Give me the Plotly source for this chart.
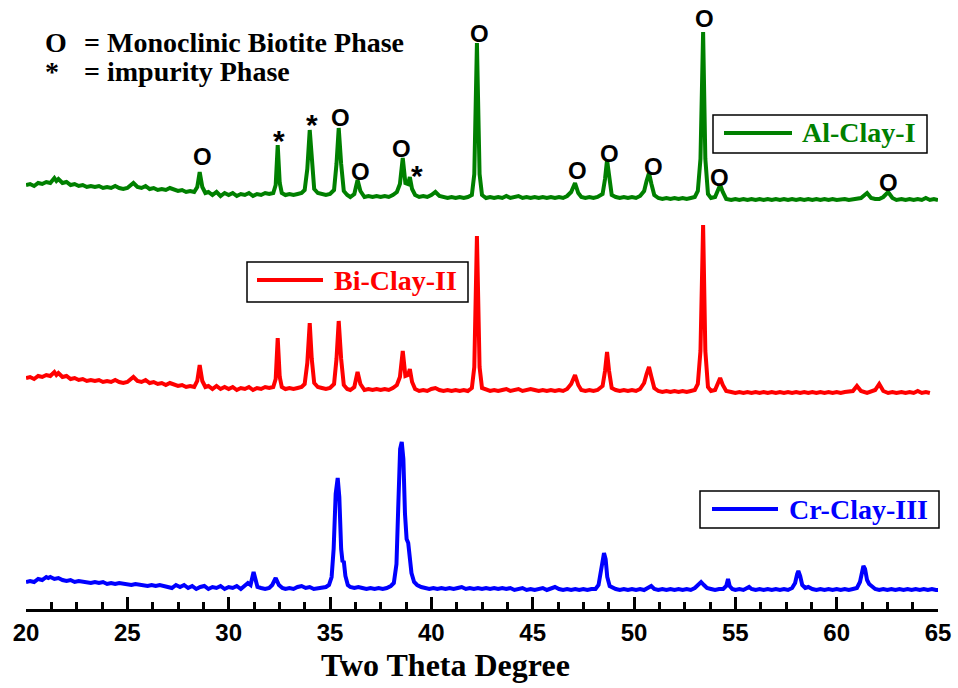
import plotly.graph_objects as go

# ---------------- data ----------------
two_theta_range = [20, 65]
major_ticks = [20, 25, 30, 35, 40, 45, 50, 55, 60, 65]

series_names = ["Al-Clay-I", "Bi-Clay-II", "Cr-Clay-III"]
series_colors = ["#008000", "#FF0000", "#0000FF"]
series_offsets = [400, 200, 0]   # vertical stacking offsets (a.u.)

al_x = [20.0, 20.2, 20.4, 20.6, 20.8, 21.0, 21.2, 21.4, 21.5, 21.6, 21.8, 22.0, 22.2, 22.4, 22.6, 22.8, 23.0, 23.2, 23.4, 23.6, 23.8, 24.0, 24.2, 24.4, 24.6, 24.8, 25.0, 25.3, 25.5, 25.7, 25.9, 26.1, 26.3, 26.5, 26.7, 26.9, 27.1, 27.3, 27.5, 27.7, 27.9, 28.1, 28.3, 28.45, 28.57, 28.7, 28.85, 29.0, 29.2, 29.4, 29.6, 29.8, 30.0, 30.2, 30.4, 30.6, 30.8, 31.0, 31.2, 31.4, 31.6, 31.8, 32.0, 32.2, 32.32, 32.42, 32.52, 32.62, 32.8, 33.0, 33.2, 33.4, 33.6, 33.75, 33.88, 34.0, 34.1, 34.22, 34.4, 34.6, 34.8, 35.0, 35.2, 35.32, 35.43, 35.55, 35.68, 35.85, 36.0, 36.2, 36.36, 36.5, 36.7, 36.9, 37.1, 37.3, 37.5, 37.7, 37.9, 38.1, 38.3, 38.45, 38.59, 38.72, 38.85, 38.94, 39.05, 39.2, 39.4, 39.6, 39.8, 40.0, 40.2, 40.4, 40.6, 40.8, 41.0, 41.2, 41.4, 41.6, 41.8, 42.0, 42.12, 42.25, 42.38, 42.5, 42.7, 42.9, 43.1, 43.3, 43.5, 43.7, 43.9, 44.1, 44.3, 44.5, 44.7, 44.9, 45.1, 45.3, 45.5, 45.7, 45.9, 46.1, 46.3, 46.5, 46.7, 46.9, 47.09, 47.25, 47.4, 47.6, 47.8, 48.0, 48.2, 48.45, 48.57, 48.67, 48.77, 48.9, 49.1, 49.3, 49.5, 49.7, 49.9, 50.1, 50.3, 50.5, 50.62, 50.74, 50.86, 51.0, 51.2, 51.4, 51.6, 51.8, 52.0, 52.2, 52.4, 52.6, 52.8, 53.0, 53.15, 53.28, 53.41, 53.52, 53.65, 53.8, 54.0, 54.12, 54.25, 54.38, 54.55, 54.8, 55.0, 55.2, 55.4, 55.6, 55.8, 56.0, 56.2, 56.4, 56.6, 56.8, 57.0, 57.2, 57.4, 57.6, 57.8, 58.0, 58.2, 58.4, 58.6, 58.8, 59.0, 59.2, 59.4, 59.6, 59.8, 60.0, 60.2, 60.4, 60.6, 60.8, 61.0, 61.2, 61.5, 61.7, 61.9, 62.1, 62.3, 62.54, 62.75, 62.95, 63.2, 63.4, 63.6, 63.8, 64.0, 64.2, 64.4, 64.6, 64.8, 65.0]
al_y = [24, 25, 23, 26, 25, 27, 26, 31, 28, 30, 26, 27, 24, 25, 23, 24, 22, 23, 22, 23, 21, 22, 21, 23, 21, 20, 21, 26, 22, 21, 23, 20, 21, 19, 20, 19, 21, 19, 18, 19, 17, 18, 17, 22, 37, 22, 16, 17, 14, 17, 13, 16, 14, 16, 13, 15, 14, 16, 13, 15, 14, 16, 15, 16, 24, 64, 26, 16, 14, 15, 14, 15, 16, 19, 40, 79, 45, 20, 16, 15, 14, 15, 19, 45, 81, 45, 18, 14, 12, 15, 29, 18, 12, 13, 12, 13, 12, 13, 12, 14, 17, 25, 51, 26, 25, 32, 20, 14, 12, 13, 12, 14, 17, 13, 12, 11, 12, 11, 12, 11, 12, 14, 35, 166, 35, 14, 11, 12, 11, 12, 11, 13, 11, 12, 13, 11, 12, 11, 12, 11, 12, 11, 12, 11, 12, 11, 13, 17, 26, 16, 12, 11, 12, 11, 12, 15, 30, 49, 30, 14, 12, 11, 12, 11, 12, 11, 13, 18, 28, 36, 25, 14, 11, 10, 11, 10, 11, 10, 11, 10, 11, 12, 18, 50, 177, 50, 15, 11, 12, 17, 24, 17, 10, 9, 10, 9, 10, 9, 10, 9, 10, 9, 10, 9, 10, 9, 10, 9, 10, 9, 10, 9, 10, 9, 10, 9, 10, 9, 10, 9, 10, 10, 9, 10, 10, 11, 16, 11, 10, 10, 12, 17, 11, 9, 10, 9, 10, 9, 10, 9, 11, 9, 10, 9]

bi_x = [20.0, 20.2, 20.4, 20.6, 20.8, 21.0, 21.2, 21.4, 21.5, 21.6, 21.8, 22.0, 22.2, 22.4, 22.6, 22.8, 23.0, 23.2, 23.4, 23.6, 23.8, 24.0, 24.2, 24.4, 24.6, 24.8, 25.0, 25.3, 25.5, 25.7, 25.9, 26.1, 26.3, 26.5, 26.7, 26.9, 27.1, 27.3, 27.5, 27.7, 27.9, 28.1, 28.3, 28.45, 28.57, 28.7, 28.85, 29.0, 29.2, 29.4, 29.6, 29.8, 30.0, 30.2, 30.4, 30.6, 30.8, 31.0, 31.2, 31.4, 31.6, 31.8, 32.0, 32.2, 32.32, 32.42, 32.52, 32.62, 32.8, 33.0, 33.2, 33.4, 33.6, 33.75, 33.88, 34.0, 34.1, 34.22, 34.4, 34.6, 34.8, 35.0, 35.2, 35.32, 35.43, 35.55, 35.68, 35.85, 36.0, 36.2, 36.36, 36.5, 36.7, 36.9, 37.1, 37.3, 37.5, 37.7, 37.9, 38.1, 38.3, 38.45, 38.59, 38.72, 38.85, 38.94, 39.05, 39.2, 39.4, 39.6, 39.8, 40.0, 40.2, 40.4, 40.6, 40.8, 41.0, 41.2, 41.4, 41.6, 41.8, 42.0, 42.12, 42.25, 42.38, 42.5, 42.7, 42.9, 43.1, 43.3, 43.5, 43.7, 43.9, 44.1, 44.3, 44.5, 44.7, 44.9, 45.1, 45.3, 45.5, 45.7, 45.9, 46.1, 46.3, 46.5, 46.7, 46.9, 47.09, 47.25, 47.4, 47.6, 47.8, 48.0, 48.2, 48.45, 48.57, 48.67, 48.77, 48.9, 49.1, 49.3, 49.5, 49.7, 49.9, 50.1, 50.3, 50.5, 50.62, 50.74, 50.86, 51.0, 51.2, 51.4, 51.6, 51.8, 52.0, 52.2, 52.4, 52.6, 52.8, 53.0, 53.15, 53.28, 53.41, 53.52, 53.65, 53.8, 54.0, 54.12, 54.25, 54.38, 54.55, 54.8, 55.0, 55.2, 55.4, 55.6, 55.8, 56.0, 56.2, 56.4, 56.6, 56.8, 57.0, 57.2, 57.4, 57.6, 57.8, 58.0, 58.2, 58.4, 58.6, 58.8, 59.0, 59.2, 59.4, 59.6, 59.8, 60.0, 60.2, 60.4, 60.6, 60.8, 61.0, 61.2, 61.5, 61.7, 61.9, 62.1, 62.3, 62.54, 62.75, 62.95, 63.2, 63.4, 63.6, 63.8, 64.0, 64.2, 64.4, 64.6, 64.8, 65.0]
bi_y = [31, 32, 30, 33, 32, 34, 33, 37, 34, 36, 32, 33, 30, 31, 29, 30, 28, 29, 28, 29, 27, 28, 27, 29, 27, 26, 27, 32, 28, 27, 29, 26, 27, 25, 26, 24, 26, 24, 23, 24, 22, 23, 22, 28, 44, 28, 22, 23, 20, 23, 20, 22, 20, 22, 19, 21, 20, 22, 19, 21, 20, 22, 21, 22, 30, 71, 32, 22, 20, 21, 20, 21, 22, 25, 46, 86, 50, 26, 22, 21, 20, 21, 25, 50, 88, 50, 24, 20, 19, 22, 37, 25, 19, 20, 19, 20, 19, 20, 19, 21, 24, 32, 58, 33, 34, 40, 27, 20, 18, 19, 18, 20, 21, 19, 18, 19, 18, 19, 18, 19, 18, 21, 42, 173, 42, 21, 19, 18, 19, 18, 19, 20, 18, 19, 20, 18, 19, 20, 19, 18, 19, 18, 19, 18, 19, 18, 20, 25, 34, 24, 19, 18, 19, 18, 19, 23, 38, 57, 38, 21, 19, 18, 19, 18, 19, 18, 20, 26, 35, 42, 32, 21, 18, 17, 18, 17, 18, 17, 18, 17, 18, 19, 25, 58, 184, 58, 22, 18, 19, 25, 31, 24, 18, 17, 16, 17, 16, 17, 16, 17, 16, 17, 16, 17, 16, 17, 16, 17, 16, 17, 16, 17, 16, 17, 16, 17, 16, 17, 16, 17, 16, 17, 17, 18, 23, 18, 16, 17, 19, 25, 18, 16, 17, 16, 17, 16, 17, 16, 18, 16, 17, 16]

cr_x = [20.0, 20.2, 20.4, 20.6, 20.8, 21.0, 21.1, 21.2, 21.4, 21.6, 21.8, 22.0, 22.2, 22.4, 22.6, 22.8, 23.0, 23.2, 23.4, 23.6, 23.8, 24.0, 24.2, 24.4, 24.6, 24.8, 25.0, 25.2, 25.4, 25.6, 25.8, 26.0, 26.2, 26.4, 26.6, 26.8, 27.0, 27.2, 27.4, 27.6, 27.8, 28.0, 28.2, 28.4, 28.6, 28.8, 29.0, 29.2, 29.4, 29.6, 29.8, 30.0, 30.2, 30.4, 30.6, 30.8, 30.95, 31.08, 31.16, 31.23, 31.32, 31.42, 31.6, 31.8, 32.0, 32.15, 32.32, 32.48, 32.65, 32.8, 33.0, 33.2, 33.4, 33.6, 33.8, 34.0, 34.2, 34.4, 34.6, 34.8, 34.95, 35.08, 35.18, 35.28, 35.38, 35.46, 35.55, 35.62, 35.68, 35.76, 35.88, 36.0, 36.2, 36.4, 36.6, 36.8, 37.0, 37.2, 37.4, 37.6, 37.8, 38.0, 38.15, 38.28, 38.38, 38.46, 38.54, 38.62, 38.7, 38.78, 38.86, 38.94, 39.02, 39.15, 39.3, 39.5, 39.7, 39.9, 40.1, 40.3, 40.5, 40.7, 40.9, 41.1, 41.3, 41.5, 41.7, 41.9, 42.1, 42.3, 42.5, 42.7, 42.9, 43.1, 43.3, 43.5, 43.7, 43.9, 44.1, 44.3, 44.5, 44.7, 44.9, 45.1, 45.3, 45.5, 45.7, 45.9, 46.1, 46.3, 46.5, 46.7, 46.9, 47.1, 47.3, 47.5, 47.7, 47.9, 48.1, 48.25, 48.38, 48.46, 48.52, 48.6, 48.68, 48.8, 48.95, 49.1, 49.3, 49.5, 49.7, 49.9, 50.1, 50.3, 50.5, 50.7, 50.85, 51.0, 51.2, 51.4, 51.6, 51.8, 52.0, 52.2, 52.4, 52.6, 52.8, 53.0, 53.15, 53.31, 53.45, 53.6, 53.8, 54.0, 54.2, 54.4, 54.55, 54.64, 54.72, 54.85, 55.0, 55.2, 55.4, 55.6, 55.68, 55.8, 56.0, 56.2, 56.4, 56.6, 56.8, 57.0, 57.2, 57.4, 57.6, 57.8, 57.95, 58.05, 58.11, 58.2, 58.3, 58.45, 58.6, 58.8, 59.0, 59.2, 59.4, 59.6, 59.8, 60.0, 60.2, 60.4, 60.6, 60.8, 61.0, 61.15, 61.25, 61.32, 61.4, 61.5, 61.6, 61.75, 61.9, 62.1, 62.3, 62.5, 62.7, 62.9, 63.1, 63.3, 63.5, 63.7, 63.9, 64.1, 64.3, 64.5, 64.7, 64.9, 65.0]
cr_y = [27, 28, 27, 30, 29, 32, 31, 32, 30, 31, 29, 28, 29, 27, 28, 27, 27, 26, 27, 26, 27, 25, 26, 25, 26, 25, 25, 24, 25, 24, 24, 23, 24, 23, 24, 23, 23, 21, 24, 22, 24, 21, 23, 20, 22, 23, 20, 22, 21, 23, 20, 22, 21, 23, 20, 23, 26, 24, 30, 37, 30, 22, 21, 20, 21, 24, 31, 24, 21, 20, 21, 20, 22, 23, 21, 22, 20, 21, 21, 22, 24, 32, 60, 115, 131, 112, 60, 47, 48, 33, 24, 22, 21, 22, 21, 20, 21, 20, 21, 20, 21, 23, 26, 45, 110, 160, 167, 150, 95, 70, 66, 50, 36, 27, 24, 22, 21, 20, 21, 20, 21, 20, 21, 20, 21, 22, 20, 21, 20, 21, 20, 21, 20, 21, 20, 21, 20, 21, 19, 20, 21, 19, 20, 19, 20, 21, 19, 20, 22, 20, 19, 20, 19, 20, 19, 20, 19, 20, 20, 24, 40, 54, 56, 50, 32, 23, 21, 20, 19, 20, 19, 20, 19, 20, 19, 21, 23, 20, 19, 20, 19, 20, 19, 20, 19, 20, 19, 21, 24, 27, 24, 21, 20, 19, 20, 20, 23, 30, 23, 20, 19, 20, 19, 21, 22, 20, 19, 20, 19, 20, 19, 20, 19, 20, 19, 21, 26, 35, 38, 33, 24, 21, 22, 20, 19, 20, 19, 20, 19, 20, 19, 20, 19, 20, 21, 27, 40, 43, 40, 29, 25, 22, 20, 19, 20, 19, 20, 19, 20, 19, 20, 19, 20, 19, 20, 19, 20, 19, 19]

# phase markers above the Al-Clay-I pattern (two-theta, stacked height, symbol)
marker_x = [28.72, 32.47, 34.10, 35.53, 36.52, 38.54, 39.28, 42.39, 47.23, 48.77, 50.94, 53.46, 54.20, 62.54]
marker_y = [453, 476, 492, 492, 438, 461, 441, 576, 439, 456, 443, 591, 432, 427]
marker_sym = ["O", "*", "*", "O", "O", "O", "*", "O", "O", "O", "O", "O", "O", "O"]

key_symbols = ["O", "*"]
key_texts = ["= Monoclinic Biotite Phase", "= impurity Phase"]
x_title = "Two Theta Degree"

# ---------------- layout helpers (pixel geometry of the page) ----------------
W, H = 958, 688
ML, MR, MT, MB = 26, 20, 10, 79
PW, PH = W - ML - MR, H - MT - MB


def px(x):
    return (x - ML) / PW


def py(y):
    return (H - MB - y) / PH


SERIF = "Liberation Serif"
SANS = "Liberation Sans"

fig = go.Figure()
data_x = [al_x, bi_x, cr_x]
data_y = [al_y, bi_y, cr_y]
for name, color, off, xs, ys in zip(series_names, series_colors, series_offsets, data_x, data_y):
    fig.add_trace(go.Scatter(
        x=xs, y=[v + off for v in ys], mode="lines", name=name,
        line=dict(color=color, width=4), showlegend=False, hoverinfo="skip",
    ))

annotations = []
for mx, my, ms in zip(marker_x, marker_y, marker_sym):
    if ms == "O":
        annotations.append(dict(x=mx, y=my, xref="x", yref="y", text="O", showarrow=False,
                                font=dict(family=SANS, size=24, color="black", weight="bold"),
                                xanchor="center", yanchor="middle"))
    else:
        annotations.append(dict(x=mx, y=my, xref="x", yref="y", text="*", showarrow=False,
                                font=dict(family=SANS, size=30, color="black", weight="bold"),
                                xanchor="center", yanchor="middle", yshift=-7))

# phase key (top-left)
key_rows_py = [42, 71]
for sym, txt, rowy in zip(key_symbols, key_texts, key_rows_py):
    annotations.append(dict(x=px(43), y=py(rowy), xref="paper", yref="paper", text=sym,
                            showarrow=False, xanchor="left", yanchor="middle",
                            font=dict(family=SERIF, size=28, color="black", weight="bold")))
    annotations.append(dict(x=px(82), y=py(rowy), xref="paper", yref="paper", text=txt,
                            showarrow=False, xanchor="left", yanchor="middle",
                            font=dict(family=SERIF, size=28, color="black", weight="bold")))

# x-axis title
annotations.append(dict(x=px(445), y=py(665), xref="paper", yref="paper", text=x_title,
                        showarrow=False, xanchor="center", yanchor="middle",
                        font=dict(family=SERIF, size=32, color="black", weight="bold")))

# per-series legend boxes: (box x0, x1, y0, y1, line x0, x1, line y, text x)
legend_geom = [
    (713, 927, 115, 153, 724, 792, 133, 800),
    (247, 468, 262, 302, 257, 323, 280, 332),
    (700, 939, 491, 528, 712, 778, 509, 787),
]
shapes = []
for (bx0, bx1, by0, by1, lx0, lx1, ly, tx), name, color in zip(legend_geom, series_names, series_colors):
    shapes.append(dict(type="rect", xref="paper", yref="paper",
                       x0=px(bx0), x1=px(bx1), y0=py(by1), y1=py(by0),
                       line=dict(color="black", width=1.5), fillcolor="rgba(0,0,0,0)"))
    shapes.append(dict(type="line", xref="paper", yref="paper",
                       x0=px(lx0), x1=px(lx1), y0=py(ly), y1=py(ly),
                       line=dict(color=color, width=4)))
    annotations.append(dict(x=px(tx), y=py(ly), xref="paper", yref="paper", text=name,
                            showarrow=False, xanchor="left", yanchor="middle",
                            font=dict(family=SERIF, size=28, color=color, weight="bold")))

fig.update_layout(
    width=W, height=H, autosize=False,
    margin=dict(l=ML, r=MR, t=MT, b=MB),
    paper_bgcolor="white", plot_bgcolor="white",
    annotations=annotations, shapes=shapes,
    xaxis=dict(
        range=two_theta_range, tickvals=major_ticks, automargin=False,
        showline=True, linecolor="black", linewidth=3,
        ticks="inside", ticklen=12, tickwidth=3, tickcolor="black",
        minor=dict(ticks="inside", ticklen=7, tickwidth=3, tickcolor="black", dtick=1.25, tick0=20),
        showgrid=False, zeroline=False,
        tickfont=dict(family=SANS, size=24, color="black", weight="bold"),
    ),
    yaxis=dict(range=[0, PH], visible=False, showgrid=False, zeroline=False, automargin=False),
)

fig.write_html("out.html", config={"displayModeBar": False},
               post_script="document.body.style.margin='0';document.body.style.overflow='hidden';")
